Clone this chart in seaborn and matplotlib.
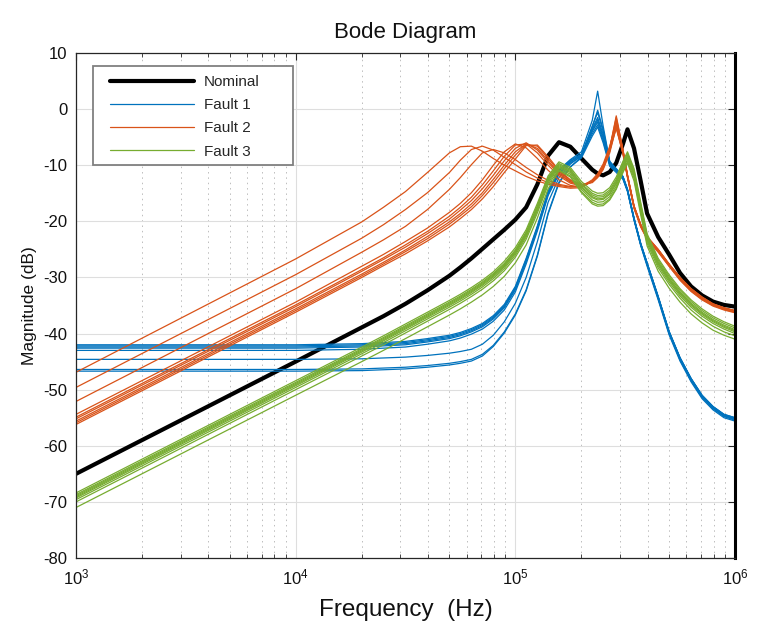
import matplotlib
matplotlib.use("Agg")
import matplotlib.pyplot as plt
from matplotlib.lines import Line2D
from matplotlib.patches import Rectangle
from matplotlib.ticker import LogLocator, NullFormatter, LogFormatterMathtext
import pandas as pd
import seaborn as sns

# ---------------- data ----------------
FREQ_HZ = [1e3, 1e4, 2e4, 2.51e4, 3.16e4, 3.98e4, 5.01e4, 5.62e4, 6.31e4, 7.08e4, 7.94e4,
           8.91e4, 1e5, 1.12e5, 1.26e5, 1.41e5, 1.58e5, 1.78e5, 2e5, 2.24e5, 2.37e5,
           2.51e5, 2.69e5, 2.88e5, 3.09e5, 3.24e5, 3.47e5, 3.72e5, 3.98e5, 4.47e5,
           5.01e5, 5.62e5, 6.31e5, 7.08e5, 7.94e5, 8.91e5, 1e6]

NOMINAL_DB = [-65, -45, -38.9, -36.9, -34.7, -32.3, -29.7, -28.2, -26.6, -24.9, -23.2, -21.5,
              -19.7, -17.5, -13.4, -8.3, -5.9, -6.7, -8.8, -10.8, -11.5, -11.8, -11.2, -9.6,
              -6.2, -3.6, -7.0, -12.8, -18.6, -22.8, -25.9, -29.2, -31.6, -33.2, -34.3,
              -34.9, -35.2]

FAULT1_DB = [
    [-42.0, -42.0, -41.8, -41.6, -41.4, -40.9, -40.3, -39.8, -39.1, -38.2, -36.8, -34.8, -31.6,
     -26.6, -20.8, -14.6, -10.8, -9.0, -7.6, -2.0, 3.2, -3.0, -9.3, -10.6, -12.0, -14.3, -19.4,
     -23.9, -27.4, -33.4, -39.6, -44.3, -48.0, -51.0, -53.0, -54.4, -55.0],
    [-42.2, -42.2, -42.0, -41.8, -41.6, -41.1, -40.5, -40.0, -39.3, -38.4, -37.0, -35.0, -31.8,
     -26.8, -21.0, -14.8, -11.0, -9.1, -8.0, -3.5, -1.5, -4.5, -9.6, -10.8, -12.1, -14.4, -19.5,
     -24.0, -27.5, -33.5, -39.7, -44.4, -48.1, -51.1, -53.1, -54.5, -55.1],
    [-42.4, -42.4, -42.2, -42.0, -41.8, -41.3, -40.7, -40.2, -39.5, -38.6, -37.2, -35.2, -32.0,
     -27.0, -21.2, -15.0, -11.2, -9.3, -8.2, -4.0, -2.3, -5.2, -9.8, -10.9, -12.2, -14.5, -19.6,
     -24.1, -27.6, -33.6, -39.8, -44.5, -48.2, -51.2, -53.2, -54.6, -55.2],
    [-42.6, -42.6, -42.4, -42.2, -42.0, -41.5, -40.9, -40.4, -39.7, -38.8, -37.4, -35.4, -32.2,
     -27.2, -21.4, -15.2, -11.4, -9.4, -8.1, -3.0, -0.6, -4.0, -9.5, -10.7, -12.1, -14.4, -19.5,
     -24.0, -27.5, -33.5, -39.7, -44.4, -48.1, -51.1, -53.1, -54.5, -55.1],
    [-43.0, -43.0, -42.8, -42.6, -42.4, -41.9, -41.3, -40.8, -40.1, -39.2, -37.8, -35.8, -32.6,
     -27.6, -21.7, -15.4, -11.6, -9.6, -8.4, -4.4, -2.8, -5.6, -10.0, -11.1, -12.4, -14.6, -19.7,
     -24.2, -27.8, -33.8, -40.0, -44.7, -48.4, -51.4, -53.4, -54.8, -55.45],
    [-44.6, -44.6, -44.5, -44.35, -44.2, -43.9, -43.5, -43.2, -42.8, -41.9, -40.3, -37.9, -34.6,
     -30.0, -23.6, -16.6, -12.2, -9.8, -8.3, -3.8, -1.9, -4.9, -9.8, -10.9, -12.3, -14.5, -19.6,
     -24.1, -27.7, -33.7, -39.9, -44.6, -48.3, -51.3, -53.3, -54.7, -55.3],
    [-46.4, -46.4, -46.3, -46.15, -46.0, -45.7, -45.3, -45.0, -44.6, -43.7, -42.1, -39.7, -36.5,
     -32.2, -26.0, -18.5, -13.0, -10.3, -8.7, -4.8, -3.2, -6.0, -10.2, -11.3, -12.5, -14.7, -19.8,
     -24.3, -28.0, -34.0, -40.2, -44.9, -48.6, -51.6, -53.6, -55.0, -55.6],
    [-46.7, -46.7, -46.6, -46.45, -46.3, -46.0, -45.6, -45.3, -44.9, -44.0, -42.3, -39.9, -36.7,
     -32.4, -26.2, -18.7, -13.2, -10.3, -8.5, -3.2, -0.2, -3.6, -9.4, -10.7, -12.0, -14.3, -19.4,
     -23.9, -27.4, -33.4, -39.6, -44.3, -48.0, -51.0, -53.0, -54.4, -55.0],
]

FAULT2_DB = [
    [-46.9, -26.7, -20.1, -17.5, -14.7, -11.3, -7.8, -6.7, -6.6, -7.5, -8.8, -10.0, -11.0, -12.0,
     -12.8, -13.4, -13.8, -14.1, -14.0, -12.8, -11.8, -10.2, -7.0, -3.2, -7.8, -12.0, -17.5,
     -20.8, -23.0, -25.3, -27.8, -30.3, -32.3, -33.8, -34.9, -35.6, -36.1],
    [-49.6, -29.5, -23.0, -20.6, -17.9, -14.9, -11.3, -9.1, -7.2, -6.6, -7.3, -8.6, -9.9, -11.2,
     -12.3, -13.1, -13.6, -13.9, -13.8, -12.6, -11.5, -9.8, -6.6, -2.6, -7.6, -11.9, -17.4,
     -20.7, -22.9, -25.2, -27.7, -30.2, -32.2, -33.7, -34.8, -35.5, -36.0],
    [-52.1, -32.0, -25.5, -23.3, -20.9, -17.9, -14.3, -12.2, -9.9, -7.8, -7.2, -7.8, -9.0,
     -10.4, -11.7, -12.7, -13.4, -13.8, -13.8, -12.8, -11.8, -10.4, -7.4, -3.4, -8.0, -12.2,
     -17.7, -21.0, -23.2, -25.5, -28.0, -30.5, -32.5, -34.0, -35.1, -35.8, -36.3],
    [-54.4, -34.4, -28.0, -25.9, -23.6, -21.2, -18.4, -16.8, -14.9, -12.6, -10.0, -7.6, -6.2,
     -6.9, -8.8, -10.9, -12.6, -13.6, -13.9, -12.9, -11.9, -10.3, -7.1, -2.0, -7.5, -12.0,
     -17.4, -20.7, -22.9, -25.1, -27.7, -30.1, -32.1, -33.6, -34.8, -35.5, -36.0],
    [-54.9, -34.9, -28.6, -26.5, -24.2, -21.8, -19.1, -17.5, -15.7, -13.5, -11.0, -8.4, -6.4,
     -6.2, -7.8, -10.0, -11.9, -13.2, -13.7, -12.9, -11.9, -10.2, -6.9, -1.5, -7.3, -11.8,
     -17.3, -20.6, -22.8, -25.0, -27.6, -30.0, -32.0, -33.5, -34.7, -35.4, -35.9],
    [-55.2, -35.2, -28.9, -26.8, -24.6, -22.2, -19.6, -18.0, -16.3, -14.2, -11.8, -9.2, -7.0,
     -6.0, -7.3, -9.5, -11.6, -13.0, -13.6, -12.9, -11.9, -10.3, -7.0, -1.2, -7.2, -11.7,
     -17.2, -20.5, -22.7, -25.0, -27.6, -30.0, -32.0, -33.5, -34.7, -35.4, -35.9],
    [-55.6, -35.6, -29.4, -27.3, -25.1, -22.7, -20.1, -18.6, -16.9, -14.9, -12.5, -10.0, -7.6,
     -6.2, -7.0, -9.2, -11.4, -12.9, -13.6, -13.0, -12.0, -10.5, -7.3, -2.0, -7.4, -11.8,
     -17.3, -20.6, -22.8, -25.1, -27.7, -30.1, -32.1, -33.6, -34.8, -35.5, -36.0],
    [-55.9, -35.9, -29.7, -27.6, -25.4, -23.1, -20.5, -19.0, -17.4, -15.4, -13.1, -10.6, -8.2,
     -6.3, -6.6, -8.8, -11.1, -12.7, -13.5, -13.0, -12.1, -10.6, -7.5, -2.6, -7.6, -11.9,
     -17.4, -20.7, -22.9, -25.2, -27.8, -30.2, -32.2, -33.7, -34.9, -35.6, -36.1],
    [-56.2, -36.2, -30.0, -27.9, -25.8, -23.5, -21.0, -19.5, -17.9, -16.0, -13.8, -11.3, -8.9,
     -6.5, -6.4, -8.5, -10.9, -12.6, -13.4, -13.1, -12.2, -10.8, -7.8, -3.2, -7.9, -12.1,
     -17.6, -20.9, -23.1, -25.4, -28.0, -30.4, -32.4, -33.9, -35.0, -35.7, -36.2],
]

FAULT3_DB = [
    [-68.4, -48.4, -42.4, -40.4, -38.3, -36.2, -34.1, -33.0, -31.8, -30.5, -29.0, -27.1, -24.7,
     -21.5, -16.8, -11.9, -9.4, -10.4, -12.9, -14.6, -15.0, -14.9, -14.0, -12.1, -9.3, -7.6,
     -10.6, -16.6, -22.2, -26.6, -29.5, -32.0, -34.0, -35.6, -36.9, -37.9, -38.7],
    [-68.7, -48.7, -42.7, -40.7, -38.6, -36.5, -34.4, -33.3, -32.1, -30.8, -29.3, -27.5, -25.1,
     -21.9, -17.2, -12.2, -9.7, -10.7, -13.3, -15.0, -15.4, -15.3, -14.4, -12.5, -9.6, -7.9,
     -10.9, -16.9, -22.5, -26.9, -29.8, -32.3, -34.3, -35.9, -37.2, -38.2, -39.0],
    [-68.9, -48.9, -42.9, -40.9, -38.8, -36.7, -34.6, -33.5, -32.3, -31.0, -29.5, -27.7, -25.3,
     -22.1, -17.4, -12.4, -9.9, -10.9, -13.5, -15.3, -15.7, -15.6, -14.7, -12.8, -9.9, -8.2,
     -11.2, -17.2, -22.8, -27.2, -30.1, -32.6, -34.6, -36.2, -37.5, -38.5, -39.3],
    [-69.1, -49.1, -43.1, -41.1, -39.0, -36.9, -34.8, -33.7, -32.5, -31.2, -29.7, -27.9, -25.5,
     -22.3, -17.6, -12.6, -10.1, -11.1, -13.8, -15.6, -16.0, -15.9, -15.0, -13.1, -10.1, -8.4,
     -11.4, -17.4, -23.0, -27.4, -30.3, -32.8, -34.8, -36.4, -37.7, -38.7, -39.5],
    [-69.3, -49.3, -43.3, -41.3, -39.2, -37.1, -35.0, -33.9, -32.7, -31.4, -29.9, -28.1, -25.7,
     -22.5, -17.8, -12.8, -10.3, -11.3, -14.0, -15.8, -16.2, -16.1, -15.2, -13.3, -10.4, -8.6,
     -11.6, -17.6, -23.2, -27.6, -30.5, -33.0, -35.0, -36.6, -37.9, -38.9, -39.7],
    [-69.6, -49.6, -43.6, -41.6, -39.5, -37.4, -35.3, -34.2, -33.0, -31.7, -30.2, -28.4, -26.0,
     -22.8, -18.1, -13.1, -10.5, -11.6, -14.3, -16.2, -16.6, -16.5, -15.6, -13.7, -10.7, -8.9,
     -11.9, -17.9, -23.5, -27.9, -30.8, -33.3, -35.3, -36.9, -38.2, -39.2, -40.0],
    [-70.0, -50.0, -44.0, -42.0, -39.9, -37.8, -35.7, -34.6, -33.4, -32.1, -30.6, -28.8, -26.4,
     -23.2, -18.5, -13.5, -10.8, -11.9, -14.7, -16.6, -17.0, -16.9, -16.0, -14.1, -11.1, -9.3,
     -12.3, -18.3, -23.9, -28.3, -31.2, -33.7, -35.8, -37.4, -38.7, -39.7, -40.4],
    [-71.0, -51.0, -45.0, -43.0, -40.9, -38.8, -36.7, -35.6, -34.4, -33.1, -31.6, -29.8, -27.4,
     -24.2, -19.4, -14.2, -11.0, -12.1, -14.9, -16.9, -17.3, -17.2, -16.2, -14.3, -11.3, -9.6,
     -12.8, -18.8, -24.4, -28.9, -31.9, -34.4, -36.5, -38.1, -39.4, -40.3, -41.0],
]

SERIES = ["Nominal", "Fault 1", "Fault 2", "Fault 3"]
COLORS = {"Nominal": "#000000", "Fault 1": "#0072BD", "Fault 2": "#D95319", "Fault 3": "#77AC30"}
Y_TICKS = list(range(-80, 11, 10))
X_LIM = (1e3, 1e6)
Y_LIM = (-80, 10)

# ---------------- build long table ----------------
rows = []
for f, m in zip(FREQ_HZ, NOMINAL_DB):
    rows.append({"freq": f, "mag": m, "family": "Nominal", "curve": 0})
for fam, curves in (("Fault 1", FAULT1_DB), ("Fault 2", FAULT2_DB), ("Fault 3", FAULT3_DB)):
    for ci, curve in enumerate(curves):
        for f, m in zip(FREQ_HZ, curve):
            rows.append({"freq": f, "mag": m, "family": fam, "curve": ci})
df = pd.DataFrame(rows)

# ---------------- style ----------------
sns.set_theme(style="white")
plt.rcParams["font.family"] = ["Liberation Sans", "DejaVu Sans"]
plt.rcParams["mathtext.fontset"] = "custom"
plt.rcParams["mathtext.rm"] = "Liberation Sans"
plt.rcParams["mathtext.it"] = "Liberation Sans:italic"
plt.rcParams["mathtext.bf"] = "Liberation Sans:bold"
plt.rcParams["axes.unicode_minus"] = False

fig = plt.figure(figsize=(7.57, 6.30), dpi=100)
AX_L, AX_R, AX_T, AX_B = 76, 735, 53, 558
ax = fig.add_axes([AX_L / 757, 1 - AX_B / 630, (AX_R - AX_L) / 757, (AX_B - AX_T) / 630])
ax.set_xscale("log")

# nominal first, then faults (green ends on top)
sns.lineplot(data=df[df.family == "Nominal"], x="freq", y="mag", color=COLORS["Nominal"],
             linewidth=3.0, estimator=None, sort=False, ax=ax, legend=False)
for fam in SERIES[1:]:
    sub = df[df.family == fam]
    sns.lineplot(data=sub, x="freq", y="mag", units="curve", color=COLORS[fam],
                 linewidth=0.9, estimator=None, sort=False, ax=ax, legend=False)

ax.set_xlim(*X_LIM)
ax.set_ylim(*Y_LIM)
ax.set_yticks(Y_TICKS)
ax.xaxis.set_major_locator(LogLocator(base=10, numticks=10))
ax.xaxis.set_major_formatter(LogFormatterMathtext())
ax.xaxis.set_minor_locator(LogLocator(base=10, subs=range(2, 10), numticks=20))
ax.xaxis.set_minor_formatter(NullFormatter())

# grids, MATLAB style
ax.grid(True, which="major", axis="both", color="#dedede", linewidth=0.8, linestyle="-")
ax.grid(True, which="minor", axis="x", color="#bdbdbd", linewidth=0.7, linestyle=(0, (1.5, 4)))
ax.set_axisbelow(True)

ax.tick_params(axis="both", which="major", direction="in", length=5, width=0.8,
               color="#262626", labelcolor="#111111", labelsize=12, top=True, right=True)
ax.tick_params(axis="y", which="major", pad=6)
ax.tick_params(axis="x", which="major", pad=7)
ax.tick_params(axis="x", which="minor", direction="in", length=3, width=0.6,
               color="#262626", top=True, bottom=True)
for side, sp in ax.spines.items():
    sp.set_visible(True)
    sp.set_color("#262626")
    sp.set_linewidth(0.9)
ax.spines["right"].set_linewidth(2.2)
ax.spines["right"].set_color("#000000")

ax.set_title("Bode Diagram", fontsize=16, pad=11, color="#111111")
ax.set_xlabel("Frequency  (Hz)", fontsize=17.5, labelpad=8, color="#111111")
ax.set_ylabel("Magnitude (dB)", fontsize=12.5, labelpad=5, color="#111111")

# legend: MATLAB-like box drawn as a patch, entries drawn frameless on top
W, H = AX_R - AX_L, AX_B - AX_T
box = Rectangle(((92.5 - AX_L) / W, (AX_B - 165) / H), (293 - 92.5) / W, (165 - 66) / H,
                transform=ax.transAxes, facecolor="white", edgecolor="#808080",
                linewidth=1.3, zorder=4)
ax.add_patch(box)
handles = [Line2D([], [], color=COLORS["Nominal"], linewidth=3.0)] + \
          [Line2D([], [], color=COLORS[s], linewidth=0.9) for s in SERIES[1:]]
leg = ax.legend(handles, SERIES, loc="upper left",
                bbox_to_anchor=((110 - AX_L) / W, (AX_B - 75) / H),
                fontsize=11, frameon=False, handlelength=5.5, handletextpad=0.65,
                labelspacing=0.6, borderpad=0.0, borderaxespad=0.0)
leg.set_zorder(5)

fig.savefig("out.png", dpi=100)
